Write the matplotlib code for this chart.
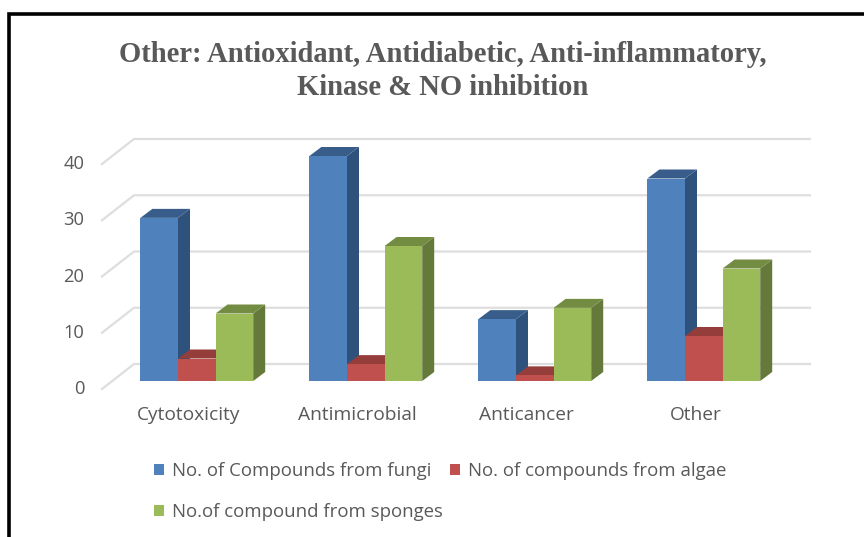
import matplotlib
matplotlib.use("Agg")
import matplotlib.pyplot as plt
from matplotlib.patches import Polygon, Patch

categories = ["Cytotoxicity", "Antimicrobial", "Anticancer", "Other"]
fungi = [29, 40, 11, 36]
algae = [4, 3, 1, 8]
sponges = [12, 24, 13, 20]
series_names = ["No. of Compounds from fungi", "No. of compounds from algae", "No.of compound from sponges"]
yticks = [0, 10, 20, 30, 40]
title_lines = ["Other: Antioxidant, Antidiabetic, Anti-inflammatory,", "Kinase & NO inhibition"]

W, H = 864, 537
PITCH = 169.0      # px per category
UNIT = 5.625       # px per value unit
X0, Y0 = 196.8, 381.0

fig = plt.figure(figsize=(W / 100, H / 100), dpi=100, facecolor="white")
ax = fig.add_axes([0, 0, 1, 1])
ax.set_xlim(-X0 / PITCH, (W - X0) / PITCH)
ax.set_ylim((Y0 - H) / UNIT, Y0 / UNIT)
ax.axis("off")

px = 1 / PITCH
pu = 1 / UNIT
bw = 37.6 * px
dx, dy = 12 * px, 9 * pu
wall_l, wall_r = (134 - X0) * px, (810 - X0) * px
floor_x, floor_dy = (102 - X0) * px, -8 * pu
wall_dy = 17 * pu
grey = "#595959"
gridc = "#DEDEDE"

# frame: left and top edges only, the picture is cut off at right and bottom
fig.add_artist(plt.Line2D([8.5 / W, 8.5 / W, 1], [0, 1 - 14 / H, 1 - 14 / H], color="black", lw=2.6,
                          solid_joinstyle="miter"))

# gridlines on back wall and side wall
for v in yticks:
    ax.plot([floor_x, wall_l, wall_r], [v + floor_dy, v + wall_dy, v + wall_dy],
            color=gridc, lw=1.6, zorder=1, solid_joinstyle="miter")
    ax.text((84.5 - X0) * px, v - 8 * pu, str(v), ha="right", va="center", fontsize=13.2,
            family="Open Sans", color=grey)

series = [
    (fungi, "#4F81BD", "#385D8A", "#2F527C"),
    (algae, "#C0504D", "#943D3B", "#8A3836"),
    (sponges, "#9BBB59", "#728C42", "#65793A"),
]
for s, (vals, front, top, side) in enumerate(series):
    for i, v in enumerate(vals):
        x0 = i + (s - 1.5) * bw
        x1 = x0 + bw
        zo = 3 + s * 0.2
        ax.add_patch(Polygon([(x1, 0), (x1 + dx, dy), (x1 + dx, v + dy), (x1, v)], fc=side, ec="none", zorder=zo))
        ax.add_patch(Polygon([(x0, v), (x0 + dx, v + dy), (x1 + dx, v + dy), (x1, v)], fc=top, ec="none", zorder=zo))
        ax.bar(x0, v, width=bw, align="edge", color=front, edgecolor="none", zorder=zo + 0.05)

for i, c in enumerate(categories):
    ax.text(i - 8 * px, (Y0 - 415.5) * pu, c, ha="center", va="center", fontsize=13.8, family="Open Sans", color=grey)

for line, yp in zip(title_lines, [54, 87.5]):
    fig.text(443 / W, 1 - yp / H, line, ha="center", va="center", fontsize=20.6, fontweight="bold",
             family="Liberation Serif", color=grey)

# two-column legend fills column by column: fungi, sponges | algae
order = [0, 2, 1]
handles = [Patch(fc=series[k][1], ec="none") for k in order]
labels = [series_names[k] for k in order]
leg = ax.legend(handles, labels, ncol=2, frameon=False, loc="upper left",
                bbox_to_anchor=(152 / W, 1 - 460 / H), prop={"family": "Open Sans", "size": 13.4},
                labelcolor=grey, handlelength=0.54, handleheight=0.54, handletextpad=0.42,
                columnspacing=0.42, labelspacing=1.24, borderpad=0.1, borderaxespad=0)

fig.savefig("out.png", dpi=100, facecolor="white")
